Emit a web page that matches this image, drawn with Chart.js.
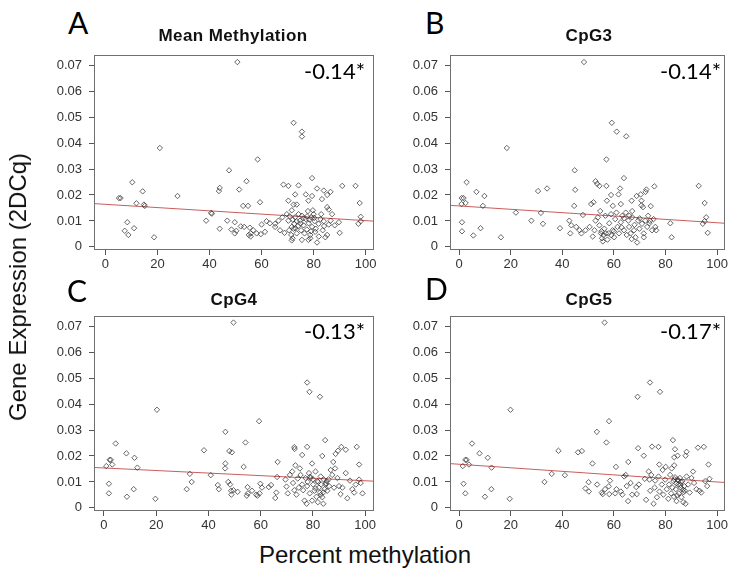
<!DOCTYPE html>
<html><head><meta charset="utf-8">
<script src="https://cdn.jsdelivr.net/npm/chart.js@4"></script>
<style>
body{margin:0;background:#fff;width:730px;height:580px;position:relative;overflow:hidden;}
canvas{position:absolute;}
.lbl{position:absolute;white-space:nowrap;color:#000;}
.letter{font-family:Lato,'Open Sans',sans-serif;font-size:30px;line-height:30px;}
.ttl{font-family:'Liberation Sans',Arial,sans-serif;font-weight:bold;font-size:17px;line-height:17px;letter-spacing:0.4px;text-align:center;width:220px;color:#111;}
.corr{font-family:Lato,'Open Sans',sans-serif;font-size:22px;line-height:22px;text-align:right;width:120px;}
.axl{font-family:'Liberation Sans',Arial,sans-serif;font-size:24px;line-height:24px;color:#111;}
</style></head><body>
<script>
// ---------- data ----------
const panelLetters = ['A','B','C','D'];
const panelTitles = ['Mean Methylation','CpG3','CpG4','CpG5'];
const corrLabels = ['-0.14*','-0.14*','-0.13*','-0.17*'];
const yAxisTitle = 'Gene Expression (2DCq)';
const xAxisTitle = 'Percent methylation';
const xTicks = [0,20,40,60,80,100];
const yTicks = [0,0.01,0.02,0.03,0.04,0.05,0.06,0.07];
const intercepts = [0.0164,0.01577,0.01538,0.01681];
const slopes = [-0.0000629,-0.0000647,-0.0000493,-0.0000682];

const meanMethylation = [[50.7,.0712],[72.3,.0478],[75.5,.0444],[75.5,.0425],[20.9,.0381],[58.5,.0337],[47.5,.0295],[10.3,.0249],[54.2,.0253],[79.4,.0265],[91,.0235],[96.1,.0235],[68.4,.0240],[70.3,.0235],[74.2,.0237],[43.9,.0227],[43.6,.0215],[51.4,.0221],[14.3,.0214],[27.7,.0196],[5.2,.0188],[5.8,.0188],[72.9,.0202],[77,.0202],[79.4,.0196],[81.3,.0225],[83.9,.0217],[86.5,.0212],[85.2,.0200],[59.4,.0172],[70.3,.0178],[78,.0178],[83.2,.0184],[97.7,.0169],[11.9,.0168],[14.8,.0163],[15.1,.0158],[52.9,.0158],[54.8,.0158],[72.3,.0163],[73.5,.0163],[85.2,.0153],[85.8,.0144],[40.6,.0131],[40.9,.0128],[71.6,.0141],[79.7,.0141],[98.1,.0116],[98.1,.0099],[97.2,.0089],[8.4,.0095],[38.7,.0101],[46.8,.0101],[49.7,.0095],[43.9,.0070],[48.4,.0067],[52,.0079],[53.3,.0077],[7.4,.0062],[11,.0072],[8.8,.0046],[18.7,.0037],[49.7,.0052],[50.3,.0062],[55.5,.0074],[55.8,.0052],[55.8,.0040],[56.8,.0064],[58.1,.0052],[59.7,.0049],[61.3,.0058],[60,.0086],[61.9,.0099],[63.2,.0091],[65.2,.0089],[65.2,.0077],[67.1,.0064],[68.8,.0054],[66.5,.0101],[68,.0114],[69.7,.0126],[70.3,.0101],[70.6,.0064],[71.4,.0046],[71.6,.0025],[71.9,.0033],[72.3,.0070],[72.6,.0089],[72.9,.0114],[73.5,.0052],[73.5,.0099],[74.2,.0126],[74.8,.0101],[75.2,.0064],[75.5,.0120],[76.1,.0083],[76.5,.0052],[77,.0107],[77.4,.0067],[77.8,.0138],[78.1,.0091],[78.7,.0046],[78.7,.0033],[79.1,.0114],[79.4,.0077],[80,.0126],[80.4,.0099],[80.6,.0058],[81.3,.0017],[81.9,.0089],[82.6,.0107],[82.9,.0126],[83.5,.0064],[83.9,.0099],[84.5,.0037],[85.2,.0046],[85.8,.0086],[86.5,.0101],[87.1,.0126],[88.1,.0083],[89.7,.0095],[90,.0054],[71.6,.0077],[75.5,.0027],[78,.0027],[73,.0072],[76,.0110],[80.8,.0070],[82,.0040],[74,.0080],[79,.0060],[55.1,.0046],[72,.0105],[77.5,.0118],[80.2,.0112],[84,.0080],[70.8,.0118],[75,.0090],[78.4,.0105]];

const cpg3 = [[48.4,.0712],[59.2,.0478],[61.1,.0444],[64.8,.0426],[18.5,.0381],[57.1,.0337],[44.8,.0295],[2.9,.0249],[52.9,.0253],[63.9,.0265],[92.9,.0235],[53.5,.0243],[54.4,.0235],[57.1,.0235],[62.4,.0225],[72.6,.0221],[75.7,.0233],[30.6,.0215],[34.1,.0225],[45,.0220],[6.7,.0212],[9.8,.0196],[1,.0188],[1.7,.0188],[58.9,.0200],[61.8,.0202],[68.8,.0196],[70.4,.0202],[72.3,.0212],[70.7,.0178],[66.9,.0178],[57.3,.0178],[95.2,.0169],[0.9,.0165],[2.5,.0169],[9.2,.0158],[44.6,.0158],[51.2,.0165],[52.1,.0172],[59.6,.0158],[62.7,.0165],[70.7,.0160],[74.3,.0157],[71.3,.0153],[22,.0132],[31.7,.0131],[54.7,.0138],[67.1,.0138],[73.3,.0120],[95.8,.0114],[1.1,.0095],[28,.0101],[42.7,.0101],[48,.0123],[32.5,.0089],[94.5,.0089],[95.2,.0099],[81.9,.0091],[1.1,.0060],[5.5,.0044],[8.3,.0072],[16.2,.0037],[39.1,.0072],[43.1,.0052],[82.4,.0037],[96.4,.0054],[43.5,.0083],[45.4,.0077],[46.7,.0064],[47.4,.0052],[49,.0064],[50.6,.0077],[51.8,.0040],[52.5,.0064],[52.9,.0101],[53.8,.0114],[54.4,.0083],[55,.0052],[55.4,.0033],[55.7,.0021],[56.3,.0070],[56.7,.0120],[56.9,.0052],[57.9,.0052],[58.2,.0091],[58.9,.0126],[59.5,.0064],[60.1,.0037],[60.5,.0107],[61,.0132],[61.4,.0077],[62,.0052],[62.7,.0095],[63.3,.0120],[63.9,.0064],[64.6,.0132],[65,.0046],[65.6,.0101],[65.9,.0077],[66.5,.0052],[66.9,.0030],[67.1,.0114],[67.8,.0064],[68.4,.0037],[69,.0017],[69.4,.0101],[69.9,.0070],[70.9,.0089],[71.6,.0052],[72.2,.0101],[72.9,.0077],[73.8,.0091],[74.8,.0064],[75.4,.0107],[76.1,.0077],[76.4,.0064],[71.6,.0037],[56,.0045],[60,.0060],[64,.0110],[68,.0085],[55.2,.0060],[57.5,.0028],[59,.0045],[63,.0075],[66,.0120],[70,.0110],[74,.0100]];

const cpg4 = [[49.6,.0714],[77.8,.0483],[78.7,.0447],[82.7,.0428],[20.3,.0378],[59.4,.0334],[46.5,.0293],[4.5,.0248],[54.2,.0252],[84.7,.0261],[96.8,.0235],[72.9,.0234],[73,.0227],[77.8,.0235],[90.9,.0235],[92.6,.0224],[38.3,.0222],[48,.0219],[49,.0214],[8.6,.0210],[75.9,.0204],[83.6,.0200],[88.7,.0208],[89.6,.0220],[2.2,.0185],[2.6,.0185],[11.7,.0193],[3.2,.0167],[0.9,.0161],[12.8,.0155],[46.5,.0171],[46.4,.0152],[53.5,.0158],[66.5,.0177],[79.7,.0171],[97.7,.0167],[32.9,.0131],[40.9,.0126],[33.6,.0100],[31.7,.0072],[1.9,.0093],[1.9,.0056],[8.8,.0043],[11.4,.0072],[19.7,.0035],[43.6,.0088],[44,.0072],[47.6,.0100],[48.3,.0090],[48.7,.0066],[48.8,.0051],[49.6,.0068],[51.2,.0062],[54.7,.0047],[55.1,.0056],[55,.0080],[56.7,.0066],[58.3,.0051],[58.8,.0047],[59.6,.0056],[59.9,.0093],[60.5,.0078],[63.1,.0080],[64,.0088],[65.6,.0038],[66,.0059],[66.3,.0119],[69.9,.0082],[69.5,.0109],[70.4,.0056],[71.2,.0127],[72.1,.0140],[72.4,.0096],[72.9,.0068],[73.3,.0164],[73.7,.0051],[74.2,.0113],[74.6,.0078],[75,.0152],[75.3,.0127],[75.9,.0090],[76.3,.0068],[76.8,.0028],[77.2,.0115],[77.6,.0016],[77.8,.0084],[78.5,.0134],[78.8,.0056],[79.1,.0115],[79.7,.0028],[80.1,.0090],[80.6,.0066],[81,.0140],[81.4,.0043],[81.7,.0103],[81.9,.0022],[82.3,.0078],[82.7,.0059],[83,.0121],[83.2,.0090],[83.6,.0041],[84,.0016],[84.2,.0109],[84.5,.0072],[84.9,.0090],[85.3,.0103],[85.5,.0066],[86.2,.0084],[86.8,.0146],[87.4,.0127],[87.8,.0177],[88.1,.0078],[88.5,.0152],[89.4,.0115],[90,.0084],[90.6,.0053],[91.3,.0078],[92.6,.0134],[93.2,.0037],[94.2,.0105],[95.1,.0072],[95.8,.0059],[96.4,.0090],[97.7,.0109],[98.3,.0096],[99,.0056],[80,.0110],[82,.0100],[83,.0050],[85,.0095],[79,.0120],[81,.0075],[84,.0060],[86,.0110],[78,.0100]];

const cpg5 = [[56.4,.0714],[74,.0483],[77.9,.0447],[69.2,.0428],[19.9,.0378],[58.1,.0334],[53.4,.0293],[5,.0248],[57.1,.0252],[82.9,.0261],[69.4,.0230],[74.8,.0236],[77.3,.0235],[92.6,.0232],[94.9,.0235],[83.7,.0226],[88.2,.0216],[38.5,.0220],[46.1,.0214],[47.6,.0219],[7.9,.0210],[71.6,.0201],[83.4,.0195],[84.7,.0201],[87.8,.0201],[11.1,.0193],[2.4,.0185],[2.9,.0185],[3.8,.0167],[1.4,.0161],[12.6,.0155],[51.7,.0171],[60.8,.0158],[65.6,.0177],[77.6,.0167],[83.4,.0164],[96.7,.0167],[35.9,.0131],[41,.0126],[33.1,.0100],[1.7,.0093],[2.4,.0056],[10,.0043],[12.5,.0072],[19.6,.0035],[49,.0075],[50.3,.0063],[50.2,.0099],[53.5,.0090],[55.3,.0059],[55.7,.0053],[56.6,.0072],[58,.0083],[58.5,.0105],[58.2,.0053],[60.5,.0056],[61,.0072],[62.7,.0063],[63.3,.0051],[64,.0121],[64.6,.0127],[65,.0084],[65.5,.0026],[66.5,.0096],[67.1,.0051],[68.7,.0080],[68.9,.0053],[69.7,.0090],[72,.0112],[72.5,.0031],[73.5,.0140],[73.8,.0109],[74.1,.0066],[74.5,.0127],[75.4,.0016],[75.8,.0078],[76,.0105],[76.7,.0041],[77.3,.0121],[77.7,.0063],[78.6,.0090],[78.9,.0146],[79.2,.0051],[79.9,.0109],[80.1,.0158],[80.5,.0072],[81.1,.0035],[81.4,.0090],[81.8,.0127],[82.2,.0056],[82.4,.0152],[82.7,.0078],[83.1,.0103],[83.3,.0043],[83.7,.0118],[84,.0072],[84.3,.0026],[84.7,.0109],[85,.0090],[85.2,.0056],[85.6,.0115],[86,.0078],[86.2,.0041],[86.5,.0103],[86.9,.0022],[87.3,.0084],[87.5,.0066],[87.8,.0016],[88.2,.0121],[88.8,.0090],[89.4,.0059],[90.1,.0115],[90.7,.0140],[91.1,.0096],[92,.0072],[93.2,.0066],[93.9,.0059],[95.4,.0103],[96.2,.0084],[97.1,.0112],[85,.0105],[86,.0100],[84.5,.0048],[87,.0060],[84.2,.0095],[85.8,.0088],[86.8,.0070],[83.5,.0110]];

const panelData = [meanMethylation, cpg3, cpg4, cpg5];

// ---------- layout ----------
const layouts = [
  {left:30, top:40, w:350, h:240, xMin:-4.4, xMax:103.2, padR:6, titleX:233, titleTop:27, letterX:68, letterTop:7, corrRight:365, corrTop:60},
  {left:386, top:40, w:344, h:240, xMin:-3.55, xMax:103.0, padR:2, titleX:589, titleTop:27, letterX:425, letterTop:7, corrRight:721, corrTop:60},
  {left:30, top:301, w:350, h:240, xMin:-3.8, xMax:103.4, padR:6, titleX:234, titleTop:291, letterX:67, letterTop:275, corrRight:365, corrTop:320},
  {left:386, top:301, w:344, h:240, xMin:-3.55, xMax:103.0, padR:2, titleX:589, titleTop:291, letterX:425, letterTop:273, corrRight:721, corrTop:320}
];
const Y_MIN = -0.0012, Y_MAX = 0.0740;

const boxPlugin = {
  id:'box',
  afterDatasetsDraw(chart){
    const {ctx, chartArea:a} = chart;
    ctx.save();
    ctx.strokeStyle = '#707070';
    ctx.lineWidth = 1;
    ctx.strokeRect(Math.round(a.left)+0.5, Math.round(a.top)+0.5, Math.round(a.right-a.left)-1, Math.round(a.bottom-a.top)-1);
    ctx.restore();
  }
};

function addText(cls, text, css){
  const d = document.createElement('div');
  d.className = 'lbl ' + cls;
  d.textContent = text;
  Object.assign(d.style, css);
  document.body.appendChild(d);
  return d;
}

layouts.forEach((L, i) => {
  const c = document.createElement('canvas');
  c.width = L.w; c.height = L.h;
  c.style.left = L.left + 'px'; c.style.top = L.top + 'px';
  c.style.width = L.w + 'px'; c.style.height = L.h + 'px';
  document.body.appendChild(c);
  const pts = panelData[i].map(p => ({x:p[0], y:p[1]}));
  const fit = [L.xMin, L.xMax].map(x => ({x, y: intercepts[i] + slopes[i]*x}));
  new Chart(c, {
    type:'scatter',
    data:{datasets:[
      {data:pts, pointStyle:'rectRot', pointRadius:2.7, borderWidth:0.9, borderColor:'rgba(45,45,45,0.8)', backgroundColor:'rgba(0,0,0,0)', order:1},
      {data:fit, showLine:true, pointRadius:0, borderWidth:1, borderColor:'rgba(195,75,75,0.9)', order:2}
    ]},
    options:{
      responsive:false, animation:false, devicePixelRatio:1,
      layout:{padding:{left:0, right:L.padR, top:8, bottom:0}},
      plugins:{legend:{display:false}, tooltip:{enabled:false}},
      scales:{
        x:{type:'linear', min:L.xMin, max:L.xMax,
          afterBuildTicks:s => { s.ticks = xTicks.map(v => ({value:v})); },
          afterFit:s => { s.height = 30; },
          border:{display:false},
          grid:{drawOnChartArea:false, drawTicks:true, tickLength:5, color:'#555'},
          ticks:{font:{family:'Liberation Sans', size:13}, color:'#333', padding:2, maxRotation:0, autoSkip:false, callback:v => String(v)}
        },
        y:{type:'linear', min:Y_MIN, max:Y_MAX,
          afterBuildTicks:s => { s.ticks = yTicks.map(v => ({value:v})); },
          afterFit:s => { s.width = 64; },
          border:{display:false},
          grid:{drawOnChartArea:false, drawTicks:true, tickLength:5, color:'#555'},
          ticks:{font:{family:'Liberation Sans', size:13}, color:'#333', padding:7, autoSkip:false, callback:v => (v === 0 ? '0' : Number(v).toFixed(2))}
        }
      }
    },
    plugins:[boxPlugin]
  });
  addText('letter', panelLetters[i], {left:L.letterX+'px', top:L.letterTop+'px'});
  addText('ttl', panelTitles[i], {left:(L.titleX-110)+'px', top:L.titleTop+'px'});
  addText('corr', corrLabels[i], {left:(L.corrRight-120)+'px', top:L.corrTop+'px'});
});

addText('axl', yAxisTitle, {left:'18px', top:'287px', transform:'translate(-50%,-50%) rotate(-90deg)'});
addText('axl', xAxisTitle, {left:'365px', top:'543px', transform:'translateX(-50%)'});
</script>
</body></html>
